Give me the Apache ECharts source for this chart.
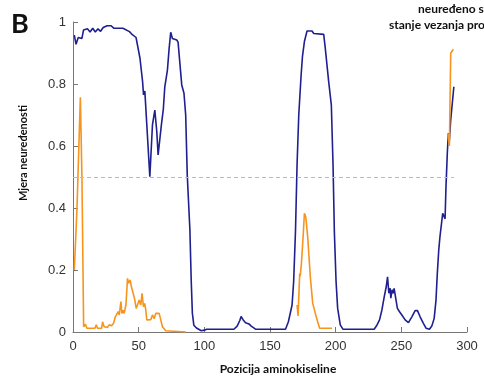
<!DOCTYPE html>
<html><head><meta charset="utf-8">
<script src="https://cdn.jsdelivr.net/npm/echarts@6/dist/echarts.min.js"></script>
<style>html,body{margin:0;padding:0;background:#fff}#c{width:484px;height:379px}</style>
</head><body><div id="c"></div>
<script>
// Disorder score (blue) — position and value
const blueX = [1,2.3,4,5.5,6.8,8,9,11,13,15,17,19,21,23,26,29,31,35,38,39.5,43,44.5,46,48,49,51,53,53.7,54.7,56,58.5,60.5,62.3,63.8,64.8,65.5,67.3,68.8,69.9,70.5,71.9,73.2,74.4,75.7,77,79,80,81.5,82.8,84.5,85.8,87,89,90,90.9,92,94,97.7,99,100,101.8,122.5,125,127,128,129.6,131.4,134,135.7,139,161.8,164,166.8,168,169.4,170.6,171.9,173.7,174.7,176.2,178.2,182,183.3,190.9,192.1,194.7,196.7,198,199,200.3,201.5,203.5,205.5,229.3,231.4,233.4,235.2,237,238.5,239.5,240.5,241.5,242,243,243.8,244.5,246,247,248.5,250.4,252.9,255.4,258,260.5,262.3,264.3,266.8,268.9,271.4,273.2,275,276.4,277.4,278.5,279.4,281.5,282.5,283.3,284,285,285.8,286.5,287.6,290];
const blueY = [0.958,0.928,0.95,0.956,0.947,0.974,0.98,0.978,0.968,0.98,0.968,0.978,0.97,0.982,0.988,0.988,0.98,0.98,0.98,0.974,0.969,0.962,0.956,0.95,0.947,0.883,0.807,0.765,0.777,0.775,0.501,0.668,0.716,0.646,0.571,0.575,0.668,0.72,0.791,0.785,0.845,0.915,0.967,0.947,0.95,0.942,0.935,0.861,0.797,0.77,0.70,0.506,0.33,0.168,0.06,0.022,0.013,0.004,0,0.006,0.009,0.009,0.019,0.037,0.05,0.039,0.03,0.026,0.019,0.009,0.009,0.033,0.087,0.162,0.324,0.539,0.70,0.829,0.888,0.937,0.971,0.971,0.963,0.96,0.915,0.807,0.732,0.539,0.324,0.163,0.077,0.023,0.009,0.009,0.022,0.039,0.071,0.114,0.146,0.178,0.125,0.141,0.109,0.136,0.125,0.141,0.138,0.076,0.066,0.055,0.039,0.03,0.049,0.069,0.069,0.049,0.028,0.012,0.009,0.019,0.044,0.103,0.189,0.265,0.307,0.383,0.383,0.365,0.469,0.576,0.641,0.614,0.684,0.791];
// Binding-state disorder (orange) — null marks a gap
const orangeX = [1,3,5.6,6.8,8.1,8.6,9.5,10.6,16.7,17.7,18.7,21.8,22.5,23.7,26.3,27.5,29.4,30.9,32.2,33.4,34.4,35.2,36.5,37.2,38.2,38.9,40.3,41.5,42.5,43.5,44.5,45.8,47.1,48.1,49.1,50.4,51.6,52.6,53.6,54.6,55.4,56.2,57.2,59.2,60.5,61.8,63,64.3,65.6,66.8,68.1,70.6,71.9,86,null,170.6,171.4,172.6,173,173.9,175.2,176.2,177.2,178.7,180.7,182.5,184.5,186.3,187.8,197.2,null,285.5,286.6,287.6,289,289.6];
const orangeY = [0.2,0.394,0.757,0.501,0.017,0.017,0.025,0.012,0.012,0.023,0.012,0.012,0.033,0.017,0.015,0.023,0.02,0.028,0.049,0.043,0.066,0.055,0.098,0.06,0.07,0.06,0.087,0.173,0.157,0.168,0.146,0.125,0.103,0.076,0.087,0.103,0.087,0.125,0.082,0.092,0.071,0.039,0.043,0.04,0.055,0.043,0.06,0.055,0.06,0.04,0.017,0.004,0,0,null,0.087,0.052,0.189,0.18,0.22,0.307,0.383,0.372,0.307,0.178,0.093,0.06,0.033,0.012,0.012,null,0.64,0.6,0.899,0.905,0.912];
const xTicks = [0,50,100,150,200,250,300];
const yTicks = [0,0.2,0.4,0.6,0.8,1];
const threshold = 0.5;
const thresholdEnd = 290;
const labels = {
  panel: 'B',
  yName: 'Mjera neuređenosti',
  xName: 'Pozicija aminokiseline',
  legend1: 'neuređeno stanje',
  legend2: 'stanje vezanja proteina'
};

const blueData = blueX.map((x,i)=>[x, blueY[i]]);
const orangeData = orangeX.map((x,i)=> x==null ? ['-','-'] : [x, orangeY[i]]);

const chart = echarts.init(document.getElementById('c'), null, {renderer:'canvas'});
const axisLabelStyle = {color:'#333', fontFamily:'Liberation Sans, Arial, sans-serif', fontSize:13};
chart.setOption({
  animation:false,
  grid:{left:73, right:17, top:22, bottom:47, containLabel:false},
  xAxis:{type:'value', min:xTicks[0], max:xTicks[xTicks.length-1], interval:xTicks[1]-xTicks[0],
    axisLine:{show:true, lineStyle:{color:'#777', width:1}},
    axisTick:{show:true, inside:true, length:5, lineStyle:{color:'#777'}},
    axisLabel:{...axisLabelStyle, margin:8},
    splitLine:{show:false}},
  yAxis:{type:'value', min:yTicks[0], max:yTicks[yTicks.length-1], interval:yTicks[1]-yTicks[0],
    axisLine:{show:true, lineStyle:{color:'#777', width:1}},
    axisTick:{show:true, inside:true, length:5, lineStyle:{color:'#777'}},
    axisLabel:{...axisLabelStyle, margin:7, formatter:v=> (v===0||v===1)? String(v) : v.toFixed(1)},
    splitLine:{show:false}},
  series:[
    {type:'line', data:blueData, showSymbol:false, lineStyle:{color:'#1f1f8f', width:1.6}, itemStyle:{color:'#1f1f8f'},
      markLine:{silent:true, symbol:'none', label:{show:false},
        lineStyle:{color:'#bbbbbb', type:[4,3], width:1},
        data:[[{coord:[0,threshold]},{coord:[thresholdEnd,threshold]}]]}},
    {type:'line', data:orangeData, showSymbol:false, connectNulls:false, lineStyle:{color:'#f7941d', width:1.6}, itemStyle:{color:'#f7941d'}}
  ],
  graphic:[
    {type:'text', left:11, top:11, style:{text:labels.panel, font:'bold 27px Lato, "Open Sans", sans-serif', fill:'#111'}},
    {type:'text', x:23, y:153, rotation:Math.PI/2, style:{text:labels.yName, font:'bold 11px Lato, "Open Sans", sans-serif', fill:'#111', align:'center', verticalAlign:'middle'}},
    {type:'text', x:278, y:369, style:{text:labels.xName, font:'bold 12px Lato, "Open Sans", sans-serif', fill:'#111', align:'center', verticalAlign:'middle'}},
    {type:'text', x:418, y:9, style:{text:labels.legend1, font:'bold 12px Lato, "Open Sans", sans-serif', fill:'#111', align:'left', verticalAlign:'middle'}},
    {type:'text', x:389, y:25, style:{text:labels.legend2, font:'bold 12px Lato, "Open Sans", sans-serif', fill:'#111', align:'left', verticalAlign:'middle'}}
  ]
});
</script>
</body></html>
